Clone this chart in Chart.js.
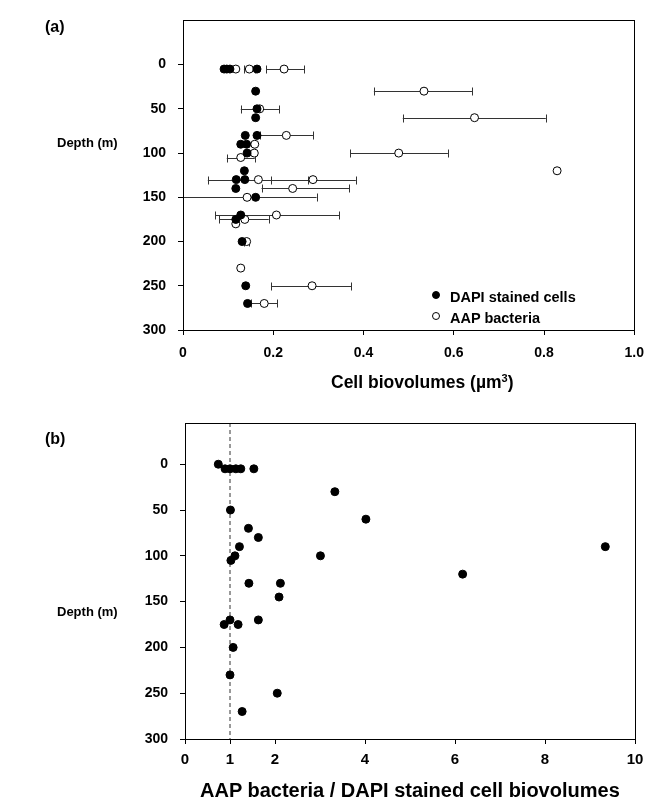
<!DOCTYPE html>
<html>
<head>
<meta charset="utf-8">
<script src="https://cdn.jsdelivr.net/npm/chart.js@4.4.1/dist/chart.umd.min.js"></script>
<style>
  body { margin: 0; background: #fff; font-family: "Liberation Sans", Arial, sans-serif; }
  #wrap { position: relative; width: 654px; height: 805px; }
  canvas { position: absolute; left: 0; }
  .lbl { position: absolute; font-weight: bold; color: #000; white-space: nowrap; line-height: 1; }
  .dot { position: absolute; width: 6px; height: 6px; border-radius: 50%; border: 1px solid #000; }
</style>
</head>
<body>
<div id="wrap">
  <canvas id="chartA" width="654" height="400" style="top:0"></canvas>
  <canvas id="chartB" width="654" height="405" style="top:400px"></canvas>

  <div class="lbl" style="left:45px;top:19px;font-size:16px">(a)</div>
  <div class="lbl" style="left:57px;top:136px;font-size:13px">Depth (m)</div>
  <div class="lbl" style="left:331px;top:373px;font-size:17.5px">Cell biovolumes (µm<sup style="font-size:11px;vertical-align:6px">3</sup>)</div>
  <div class="dot" style="left:432px;top:291px;background:#000"></div>
  <div class="lbl" style="left:450px;top:290px;font-size:14.5px">DAPI stained cells</div>
  <div class="dot" style="left:432px;top:312px;background:#fff"></div>
  <div class="lbl" style="left:450px;top:311px;font-size:14.5px">AAP bacteria</div>

  <div class="lbl" style="left:45px;top:431px;font-size:16px">(b)</div>
  <div class="lbl" style="left:57px;top:605px;font-size:13px">Depth (m)</div>
  <div class="lbl" style="left:200px;top:780px;font-size:20px">AAP bacteria / DAPI stained cell biovolumes</div>
</div>

<script>
// panel (a): DAPI stained cells
const dapiDepth = [5, 5, 5, 5, 30, 50, 60, 80, 80, 90, 90, 100, 120, 130, 130, 140, 150, 170, 175, 200, 250, 270];
const dapiSize = [0.091, 0.097, 0.104, 0.164, 0.161, 0.164, 0.161, 0.138, 0.164, 0.128, 0.141, 0.142, 0.136, 0.118, 0.137, 0.117, 0.161, 0.128, 0.117, 0.131, 0.139, 0.143];

// panel (a): AAP bacteria, with error bar ends (null = no bar)
const aapDepth = [5, 5, 5, 30, 50, 60, 80, 90, 100, 100, 105, 120, 130, 130, 140, 150, 170, 175, 180, 200, 230, 250, 270];
const aapSize = [0.117, 0.147, 0.224, 0.534, 0.170, 0.646, 0.229, 0.159, 0.158, 0.478, 0.128, 0.829, 0.167, 0.288, 0.243, 0.142, 0.207, 0.137, 0.117, 0.141, 0.128, 0.286, 0.180];
const aapLow = [null, 0.135, 0.184, 0.423, 0.128, 0.487, 0.170, null, null, 0.371, 0.097, null, 0.055, 0.194, 0.174, 0.0, 0.071, 0.080, null, 0.135, null, 0.195, 0.151];
const aapHigh = [null, 0.160, 0.268, 0.641, 0.213, 0.804, 0.288, null, null, 0.587, 0.159, null, 0.277, 0.383, 0.368, 0.296, 0.346, 0.190, null, 0.147, null, 0.373, 0.209];

// panel (b): ratio of biovolumes
const ratioDepth = [0, 5, 5, 5, 5, 5, 30, 50, 60, 70, 80, 90, 90, 100, 100, 105, 120, 130, 130, 145, 170, 170, 175, 175, 200, 230, 250, 270];
const ratioValue = [0.74, 0.89, 1.0, 1.13, 1.24, 1.53, 3.33, 1.01, 4.02, 1.41, 1.63, 1.21, 9.34, 1.11, 3.01, 1.02, 6.17, 1.42, 2.12, 2.09, 1.0, 1.63, 0.87, 1.18, 1.07, 1.0, 2.05, 1.27];

const depthTicks = [0, 50, 100, 150, 200, 250, 300];
const sizeTicks = [0, 0.2, 0.4, 0.6, 0.8, 1.0];
const ratioTicks = [0, 1, 2, 4, 6, 8, 10];
const refLine = 1;

const tickFont = { family: "Liberation Sans", size: 14, weight: "bold" };

const framePlugin = {
  id: "frame",
  afterDraw(chart) {
    const a = chart.chartArea;
    const ctx = chart.ctx;
    ctx.save();
    ctx.strokeStyle = "#000";
    ctx.lineWidth = 1;
    ctx.strokeRect(Math.round(a.left) + 0.5, Math.round(a.top) + 0.5, Math.round(a.right - a.left), Math.round(a.bottom - a.top));
    ctx.restore();
  },
};

const errorBarPlugin = {
  id: "errorBars",
  beforeDatasetsDraw(chart) {
    const xs = chart.scales.x;
    const ys = chart.scales.y;
    const ctx = chart.ctx;
    ctx.save();
    ctx.strokeStyle = "#333";
    ctx.lineWidth = 1;
    aapDepth.forEach((d, i) => {
      if (aapLow[i] === null) return;
      const y = Math.round(ys.getPixelForValue(d)) + 0.5;
      const x1 = xs.getPixelForValue(aapLow[i]);
      const x2 = xs.getPixelForValue(aapHigh[i]);
      ctx.beginPath();
      ctx.moveTo(x1, y);
      ctx.lineTo(x2, y);
      ctx.moveTo(Math.round(x1) + 0.5, y - 4);
      ctx.lineTo(Math.round(x1) + 0.5, y + 4);
      ctx.moveTo(Math.round(x2) + 0.5, y - 4);
      ctx.lineTo(Math.round(x2) + 0.5, y + 4);
      ctx.stroke();
    });
    ctx.restore();
  },
};

function axisGrid() {
  return { display: true, drawOnChartArea: false, drawTicks: true, tickLength: 5, color: "#000" };
}

function yAxis(min, width, pad) {
  return {
    type: "linear",
    reverse: true,
    min: min,
    max: 300,
    afterBuildTicks: (s) => { s.ticks = depthTicks.map((v) => ({ value: v })); },
    afterFit: (s) => { s.width = width; },
    grid: axisGrid(),
    border: { display: true, color: "#000", width: 1 },
    ticks: { color: "#000", font: tickFont, padding: pad },
  };
}

const ctxA = document.getElementById("chartA").getContext("2d");
const chartA = new Chart(ctxA, {
  type: "scatter",
  data: {
    datasets: [
      {
        label: "DAPI stained cells",
        data: dapiDepth.map((d, i) => ({ x: dapiSize[i], y: d })),
        pointRadius: 4,
        pointBackgroundColor: "#000",
        pointBorderColor: "#000",
        pointBorderWidth: 1,
      },
      {
        label: "AAP bacteria",
        data: aapDepth.map((d, i) => ({ x: aapSize[i], y: d })),
        pointRadius: 4,
        pointBackgroundColor: "#fff",
        pointBorderColor: "#000",
        pointBorderWidth: 1,
      },
    ],
  },
  options: {
    responsive: false,
    animation: false,
    devicePixelRatio: 1,
    layout: { padding: { top: 13, right: 19, bottom: 0, left: 0 } },
    plugins: { legend: { display: false }, tooltip: { enabled: false } },
    scales: {
      x: {
        type: "linear",
        min: 0,
        max: 1,
        afterBuildTicks: (s) => { s.ticks = sizeTicks.map((v) => ({ value: v })); },
        afterFit: (s) => { s.height = 70; },
        grid: axisGrid(),
        border: { display: true, color: "#000", width: 1 },
        ticks: {
          color: "#000",
          font: tickFont,
          padding: 10,
          callback: (v) => (v === 0 ? "0" : Number(v).toFixed(1)),
        },
      },
      y: yAxis(-50, 183, 12),
    },
  },
  plugins: [framePlugin, errorBarPlugin],
});

const ctxB = document.getElementById("chartB").getContext("2d");
const chartB = new Chart(ctxB, {
  type: "scatter",
  data: {
    datasets: [
      {
        label: "ratio",
        data: ratioDepth.map((d, i) => ({ x: ratioValue[i], y: d })),
        pointRadius: 4,
        pointBackgroundColor: "#000",
        pointBorderColor: "#000",
      },
      {
        label: "1:1",
        data: [{ x: refLine, y: -45 }, { x: refLine, y: 300 }],
        showLine: true,
        pointRadius: 0,
        borderColor: "#333",
        borderWidth: 1,
        borderDash: [4, 3],
      },
    ],
  },
  options: {
    responsive: false,
    animation: false,
    devicePixelRatio: 1,
    layout: { padding: { top: 23, right: 19, bottom: 0, left: 0 } },
    plugins: { legend: { display: false }, tooltip: { enabled: false } },
    scales: {
      x: {
        type: "linear",
        min: 0,
        max: 10,
        afterBuildTicks: (s) => { s.ticks = ratioTicks.map((v) => ({ value: v })); },
        afterFit: (s) => { s.height = 66; },
        grid: axisGrid(),
        border: { display: true, color: "#000", width: 1 },
        ticks: { color: "#000", font: { family: "Liberation Sans", size: 15, weight: "bold" }, padding: 7 },
      },
      y: yAxis(-45, 185, 12),
    },
  },
  plugins: [framePlugin],
});
</script>
</body>
</html>
